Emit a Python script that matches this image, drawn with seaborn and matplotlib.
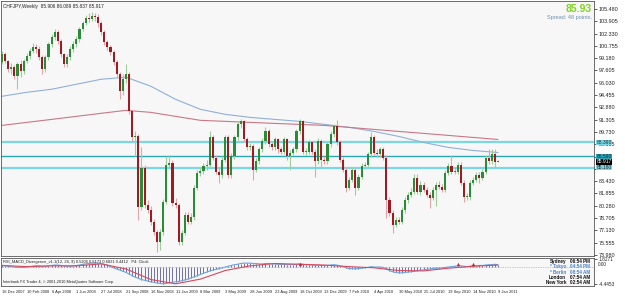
import numpy as np
import pandas as pd
import matplotlib
matplotlib.use("Agg")
import matplotlib.pyplot as plt
import seaborn as sns

# CHFJPY weekly candles, first bar = 16 Dec 2007 (open of the first bar, then closes)
first_open = 98.67
closes = [99.70, 98.80, 97.77, 98.03, 96.87, 98.41, 97.51, 98.80, 99.44, 100.08,
          100.60, 100.34, 99.31, 97.77, 99.31, 100.98, 101.88, 102.52, 101.37, 99.70,
          98.41, 99.31, 100.34, 100.98, 101.62, 102.91, 103.68, 104.32, 104.19, 104.58,
          104.45, 103.68, 102.52, 101.24, 100.60, 99.95, 98.67, 97.13, 94.94, 96.48,
          97.13, 92.37, 89.03, 89.16, 80.17, 85.18, 80.42, 79.78, 78.24, 76.95,
          75.67, 76.95, 80.81, 85.56, 85.82, 80.68, 80.42, 75.67, 76.82, 79.14,
          78.24, 78.88, 82.61, 84.53, 84.79, 85.31, 85.56, 89.03, 86.46, 84.66,
          84.28, 86.20, 89.03, 84.28, 86.59, 89.03, 90.70, 91.09, 88.77, 87.75,
          87.88, 84.92, 85.95, 87.49, 88.52, 89.80, 88.13, 87.75, 88.77, 87.49,
          87.23, 88.77, 86.59, 87.10, 87.49, 89.80, 91.09, 87.23, 87.23, 88.39,
          87.23, 85.95, 88.52, 86.20, 85.95, 88.13, 89.42, 90.45, 88.39, 86.20,
          84.92, 82.61, 83.63, 84.92, 82.61, 84.02, 85.31, 85.56, 86.85, 89.03,
          87.10, 86.85, 87.49, 86.46, 81.06, 79.39, 77.85, 78.49, 78.24, 79.78,
          81.06, 81.71, 82.09, 83.89, 82.09, 82.99, 82.35, 81.71, 81.32, 82.35,
          82.99, 82.74, 82.35, 84.53, 85.31, 84.66, 84.66, 85.56, 83.25, 81.45,
          81.45, 83.25, 83.63, 84.28, 83.89, 84.66, 86.46, 85.95, 86.85, 85.91,
          85.92]
highs = [100.10, 99.95, 99.00, 98.60, 98.30, 98.70, 98.90, 99.10, 99.80, 100.50,
         101.10, 101.00, 100.70, 99.60, 99.60, 101.30, 102.30, 102.90, 102.80, 101.60,
         99.90, 99.70, 100.70, 101.40, 102.00, 103.20, 104.00, 104.70, 105.00, 105.10,
         104.90, 104.80, 103.90, 102.80, 101.50, 100.90, 100.20, 98.90, 97.40, 97.10,
         98.40, 97.40, 92.60, 89.80, 89.50, 87.80, 85.50, 81.00, 80.20, 78.60,
         77.20, 77.30, 81.20, 86.60, 86.80, 86.10, 81.30, 80.70, 77.20, 79.50,
         79.50, 79.30, 83.00, 84.90, 85.30, 85.80, 86.20, 89.80, 89.40, 86.80,
         85.20, 86.60, 89.40, 89.30, 87.00, 89.40, 91.00, 91.40, 91.30, 89.10,
         88.30, 88.20, 86.40, 87.80, 88.90, 90.40, 90.10, 88.50, 89.10, 89.00,
         87.80, 89.10, 89.00, 87.40, 87.80, 90.10, 91.40, 91.30, 87.70, 88.70,
         88.60, 87.50, 88.90, 88.80, 86.60, 88.50, 89.80, 90.80, 91.20, 88.70,
         86.50, 85.20, 84.00, 85.30, 85.20, 84.40, 85.70, 85.90, 87.20, 89.70,
         89.30, 87.50, 87.80, 87.80, 86.80, 81.40, 79.70, 78.90, 78.90, 80.10,
         81.40, 82.10, 82.50, 84.30, 84.40, 83.40, 83.30, 82.70, 82.00, 82.70,
         83.30, 83.40, 83.10, 84.90, 85.70, 86.80, 85.10, 85.90, 85.90, 83.60,
         81.90, 83.60, 84.00, 84.60, 84.60, 85.00, 86.80, 87.60, 87.60, 87.60,
         86.09]
lows = [98.40, 98.50, 97.40, 97.20, 96.50, 95.20, 96.80, 97.20, 98.50, 99.10,
        99.80, 99.90, 99.00, 97.20, 97.40, 99.00, 100.60, 101.50, 101.00, 99.30,
        98.00, 98.10, 99.00, 100.00, 100.60, 101.30, 102.60, 103.40, 103.80, 103.90,
        104.00, 103.20, 102.20, 100.90, 100.20, 99.60, 98.30, 96.80, 93.90, 94.50,
        96.00, 92.00, 88.60, 86.60, 78.50, 79.80, 80.00, 79.30, 77.80, 76.50,
        74.40, 74.60, 76.60, 80.50, 85.20, 80.30, 80.00, 75.30, 75.30, 76.50,
        77.90, 77.90, 78.50, 82.30, 84.10, 84.40, 84.90, 85.20, 86.10, 84.30,
        83.20, 83.90, 85.90, 83.90, 83.90, 86.30, 88.70, 90.30, 88.40, 87.40,
        87.40, 83.60, 84.60, 85.60, 87.20, 88.20, 87.80, 87.40, 87.40, 87.10,
        86.90, 86.90, 86.20, 84.80, 86.80, 87.20, 89.50, 86.90, 86.80, 86.90,
        86.90, 84.00, 85.60, 85.10, 85.60, 85.60, 87.80, 89.10, 88.00, 85.90,
        84.60, 82.10, 82.30, 83.30, 81.60, 82.30, 83.70, 85.00, 85.20, 86.50,
        86.80, 86.50, 86.50, 86.10, 78.70, 79.00, 76.80, 77.50, 77.90, 77.90,
        79.40, 80.70, 81.40, 81.80, 81.80, 81.70, 82.00, 81.40, 80.00, 81.00,
        80.20, 82.40, 82.00, 82.00, 84.20, 84.30, 84.30, 84.30, 82.90, 80.80,
        81.00, 81.00, 82.90, 83.30, 83.20, 83.60, 84.30, 85.60, 85.60, 85.20,
        85.84]

# moving averages, read every 8 weeks
ma_weeks = list(range(0, 161, 8))
ma_blue = [94.30, 94.81, 95.20, 95.84, 96.48, 96.74, 95.59, 93.91, 92.63, 91.99, 91.60,
           91.34, 91.09, 90.70, 90.32, 89.80, 89.16, 88.39, 87.75, 87.36, 87.10]
ma_red = [90.57, 90.96, 91.34, 91.73, 92.12, 92.50, 92.24, 91.73, 91.22, 91.09, 90.96,
          90.83, 90.70, 90.57, 90.32, 90.06, 89.80, 89.55, 89.29, 89.03, 88.77]

# horizontal levels
levels = [88.39, 86.59, 85.18]
level_tags = ["88.390", "86.590", "85.180"]
last_price = 85.93
last_price_tag = "85.917"

# MACD sub-window
macd = [0.3, 0.2, 0.1, 0.0, -0.1, -0.2, -0.2, -0.2, -0.1, 0.0,
        0.1, 0.2, 0.2, 0.1, 0.1, 0.2, 0.3, 0.4, 0.4, 0.3,
        0.2, 0.1, 0.1, 0.2, 0.3, 0.4, 0.6, 0.7, 0.8, 0.9,
        0.9, 0.9, 0.8, 0.6, 0.4, 0.0, -0.3, -0.6, -0.9, -1.2,
        -1.5, -1.9, -2.3, -2.7, -3.0, -3.3, -3.5, -3.7, -3.9, -4.0,
        -4.2, -4.3, -4.4, -4.3, -4.1, -4.0, -3.9, -3.8, -3.6, -3.4,
        -3.2, -2.9, -2.6, -2.3, -2.0, -1.7, -1.4, -1.1, -0.9, -0.7,
        -0.5, -0.3, -0.1, 0.1, 0.3, 0.5, 0.6, 0.8, 0.9, 0.9,
        0.9, 0.8, 0.8, 0.7, 0.7, 0.8, 0.8, 0.7, 0.7, 0.6,
        0.6, 0.6, 0.5, 0.5, 0.5, 0.6, 0.7, 0.6, 0.5, 0.5,
        0.4, 0.3, 0.4, 0.3, 0.3, 0.3, 0.4, 0.5, 0.4, 0.2,
        0.0, -0.3, -0.5, -0.5, -0.6, -0.5, -0.4, -0.3, -0.2, 0.0,
        -0.1, -0.1, -0.1, -0.2, -0.6, -1.0, -1.3, -1.5, -1.6, -1.6,
        -1.5, -1.4, -1.3, -1.2, -1.0, -0.9, -0.8, -0.7, -0.6, -0.5,
        -0.4, -0.4, -0.3, -0.2, -0.1, 0.0, 0.1, 0.2, 0.2, 0.1,
        0.0, 0.1, 0.2, 0.2, 0.3, 0.3, 0.4, 0.5, 0.5, 0.6, 0.5]
signal = [0.3, 0.0, 0.2, 0.2, 0.7, -0.6, -3.3, -4.4, -3.2, -1.0, 0.2,
          0.8, 0.6, 0.4, 0.0, -0.3, -1.0, -1.1, -0.4, 0.1, 0.4]
arrow_weeks = [96, 147, 152]

date_labels = ["16 Dec 2007", "10 Feb 2008", "6 Apr 2008", "1 Jun 2008", "27 Jul 2008",
               "21 Sep 2008", "16 Nov 2008", "11 Jan 2009", "8 Mar 2009", "3 May 2009",
               "28 Jun 2009", "23 Aug 2009", "18 Oct 2009", "13 Dec 2009", "7 Feb 2010",
               "4 Apr 2010", "30 May 2010", "25 Jul 2010", "19 Sep 2010", "14 Nov 2010",
               "9 Jan 2011"]
price_ticks = [73.980, 75.555, 77.130, 78.705, 80.280, 81.855, 83.430, 85.005, 86.580,
               88.155, 89.730, 91.305, 92.880, 94.455, 96.030, 97.605, 99.180, 100.755,
               102.330, 103.905, 105.480]
hidden_ticks = [85.005, 86.580]  # covered by the level tags

df = pd.DataFrame({"week": np.arange(len(closes)), "close": closes, "high": highs, "low": lows})
df["open"] = [first_open] + closes[:-1]
up = df[df.close >= df.open]
dn = df[df.close < df.open]

sns.set_style("white")
plt.rcParams["font.family"] = ["Liberation Sans", "DejaVu Sans"]

fig = plt.figure(figsize=(6.25, 2.99), dpi=100)
ax = fig.add_axes([1 / 625, 43 / 299, 593 / 625, 255 / 299])
ax2 = fig.add_axes([1 / 625, 13 / 299, 593 / 625, 28 / 299])
for a in (ax, ax2):
    a.set_facecolor("#f7f7f7")
    a.set_xlim(-0.32, 190.97)
    for s in a.spines.values():
        s.set_color("#555555")
        s.set_linewidth(0.6)

# level lines behind candles
ax.axhline(levels[0], color="#7ad8e6", lw=1.6, zorder=1)
ax.axhline(levels[1], color="#2aa6b6", lw=1.0, zorder=1)
ax.axhline(levels[2], color="#7ad8e6", lw=1.6, zorder=1)

# moving averages
sns.lineplot(x=ma_weeks, y=ma_blue, ax=ax, color="#8fb0d8", lw=0.8, zorder=2)
sns.lineplot(x=ma_weeks, y=ma_red, ax=ax, color="#c87886", lw=0.8, zorder=2)

# candles
ax.vlines(up.week, up.low, up.high, color="#9ccf9c", lw=0.8, zorder=3)
ax.vlines(dn.week, dn.low, dn.high, color="#e6a4a8", lw=0.8, zorder=3)
ax.bar(up.week, np.maximum(up.close - up.open, 0.08), bottom=up.open, width=0.68,
       color="#2a8c36", linewidth=0, zorder=4)
ax.bar(dn.week, dn.open - dn.close, bottom=dn.close, width=0.68,
       color="#a11a22", linewidth=0, zorder=4)

ax.set_ylim(73.85, 106.5)
ax.set_xticks([])
ax.yaxis.tick_right()
ax.set_yticks(price_ticks)
ax.set_yticklabels(["" if v in hidden_ticks else f"{v:.3f}" for v in price_ticks], fontsize=3.9)
ax.tick_params(axis="y", length=2, width=0.5, pad=1.5, colors="#222222")
ax.set_xlabel("")
ax.set_ylabel("")

ytr = ax.get_yaxis_transform()
for lv, tag, col in zip(levels, level_tags, ["#7ad8e6", "#2aa6b6", "#7ad8e6"]):
    ax.text(1.004, lv, tag, transform=ytr, fontsize=3.6, va="center", ha="left",
            bbox=dict(facecolor=col, edgecolor="none", pad=0.3))
ax.text(1.004, last_price, last_price_tag, transform=ytr, fontsize=3.6, va="center", ha="left",
        color="white", bbox=dict(facecolor="black", edgecolor="none", pad=0.3))

ax.text(0.004, 0.99, "CHFJPY,Weekly  85.906 86.089 85.837 85.917", transform=ax.transAxes,
        fontsize=3.4, va="top", ha="left", color="#222222")
ax.text(0.997, 0.99, "85.93", transform=ax.transAxes, fontsize=7.5, weight="bold",
        va="top", ha="right", color="#7fd420")
ax.text(0.997, 0.945, "Spread: 48 points.", transform=ax.transAxes, fontsize=4.0,
        va="top", ha="right", color="#6f90b4")

# MACD panel
ax2.axhline(0, color="#999999", lw=0.5, ls=(0, (1, 1.5)), zorder=1)
ax2.vlines(df.week, 0, macd, color="#5a5aa0", lw=0.6, zorder=2)
sns.lineplot(x=df.week, y=macd, ax=ax2, color="#6aa2e4", lw=0.8, zorder=3)
sns.lineplot(x=ma_weeks, y=signal, ax=ax2, color="#d64a5a", lw=0.8, zorder=3)
sns.scatterplot(x=arrow_weeks, y=[0.8] * len(arrow_weeks), ax=ax2, marker="^",
                color="#d02020", s=6, linewidth=0, zorder=4)
ax2.set_ylim(-4.96, 2.21)
ax2.yaxis.tick_right()
ax2.set_yticks([1.8271, -4.4453])
ax2.set_yticklabels(["1.8271", "-4.4453"], fontsize=3.4)
ax2.tick_params(axis="y", length=2, width=0.5, pad=1.5, colors="#222222")
ax2.text(1.006, 0.0, "0.00", transform=ax2.get_yaxis_transform(), fontsize=3.4,
         va="bottom", ha="left", color="#222222")
ax2.set_xticks(ma_weeks)
ax2.set_xticklabels(date_labels, fontsize=2.9, ha="left")
ax2.tick_params(axis="x", length=2, width=0.5, pad=1.2, colors="#222222")
ax2.set_xlabel("")
ax2.set_ylabel("")

ax2.text(0.004, 0.93, "RSI_MACD_Divergence_v1.1(12, 26, 9) 0.5206 0.6173 0.6821 0.4412   P4: Clock",
         transform=ax2.transAxes, fontsize=2.9, va="top", ha="left", color="#222222")
ax2.text(0.004, 0.06, "Interbank FX Trader 4, \u00a9 2001-2010 MetaQuotes Software Corp.",
         transform=ax2.transAxes, fontsize=2.8, va="bottom", ha="left", color="#222222")

cities = ["Sydney", "* Tokyo", "* Berlin", "London", "New York"]
times = ["06:54 PM", "04:54 PM", "08:54 AM", "07:54 AM", "02:54 AM"]
city_cols = ["#111111", "#4f86c6", "#4f86c6", "#111111", "#111111"]
for k, (c, t, col) in enumerate(zip(cities, times, city_cols)):
    yy = 0.86 - k * 0.18
    ax2.text(0.953, yy, c, transform=ax2.transAxes, fontsize=3.3, weight="bold",
             ha="right", va="center", color=col)
    ax2.text(0.960, yy, t, transform=ax2.transAxes, fontsize=3.3, weight="bold",
             ha="left", va="center", color=col)

fig.savefig("out.png", dpi=100, facecolor="white")
